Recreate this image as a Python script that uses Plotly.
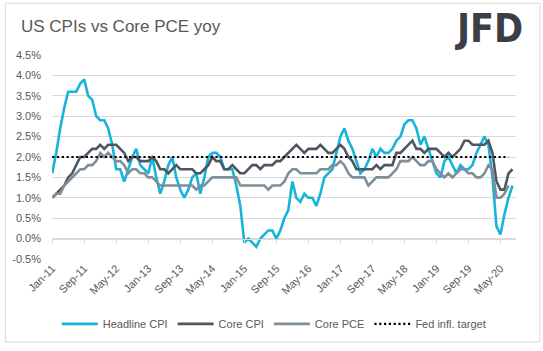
import plotly.graph_objects as go

# ---------------- data ----------------
years = list(range(11, 21))
mons = ["Jan", "Feb", "Mar", "Apr", "May", "Jun", "Jul", "Aug", "Sep", "Oct", "Nov", "Dec"]
months = [f"{m}-{y}" for y in years for m in mons][:116]  # Jan-11 .. Aug-20

headline_cpi = [
    1.6, 2.1, 2.7, 3.2, 3.6, 3.6, 3.6, 3.8, 3.9, 3.5, 3.4, 3.0,
    2.9, 2.9, 2.7, 2.3, 1.7, 1.7, 1.4, 1.7, 2.0, 2.2, 1.8, 1.7,
    1.6, 2.0, 1.5, 1.1, 1.4, 1.8, 2.0, 1.5, 1.2, 1.0, 1.2, 1.5,
    1.6, 1.1, 1.5, 2.0, 2.1, 2.1, 2.0, 1.7, 1.7, 1.7, 1.3, 0.8,
    -0.1, 0.0, -0.1, -0.2, 0.0, 0.1, 0.2, 0.2, 0.0, 0.2, 0.5, 0.7,
    1.4, 1.0, 0.9, 1.1, 1.0, 1.0, 0.8, 1.1, 1.5, 1.6, 1.7, 2.1,
    2.5, 2.7, 2.4, 2.2, 1.9, 1.6, 1.7, 1.9, 2.2, 2.0, 2.2, 2.1,
    2.1, 2.2, 2.4, 2.5, 2.8, 2.9, 2.9, 2.7, 2.3, 2.5, 2.2, 1.9,
    1.6, 1.5, 1.9, 2.0, 1.8, 1.6, 1.8, 1.7, 1.7, 1.8, 2.1, 2.3,
    2.5, 2.3, 1.5, 0.3, 0.1, 0.6, 1.0, 1.3,
]

core_cpi = [
    1.0, 1.1, 1.2, 1.3, 1.5, 1.6, 1.8, 2.0, 2.0, 2.1, 2.2, 2.2,
    2.3, 2.2, 2.3, 2.3, 2.3, 2.2, 2.1, 1.9, 2.0, 2.0, 1.9, 1.9,
    1.9, 2.0, 1.9, 1.7, 1.7, 1.6, 1.7, 1.8, 1.7, 1.7, 1.7, 1.7,
    1.6, 1.6, 1.7, 1.8, 2.0, 1.9, 1.9, 1.7, 1.7, 1.8, 1.7, 1.6,
    1.6, 1.7, 1.8, 1.8, 1.7, 1.8, 1.8, 1.8, 1.9, 1.9, 2.0, 2.1,
    2.2, 2.3, 2.2, 2.1, 2.2, 2.2, 2.2, 2.3, 2.2, 2.1, 2.1, 2.2,
    2.3, 2.2, 2.0, 1.9, 1.7, 1.7, 1.7, 1.7, 1.7, 1.8, 1.7, 1.8,
    1.8, 1.8, 2.1, 2.1, 2.2, 2.3, 2.4, 2.2, 2.2, 2.1, 2.2, 2.2,
    2.2, 2.1, 2.0, 2.1, 2.0, 2.1, 2.2, 2.4, 2.4, 2.3, 2.3, 2.3,
    2.3, 2.4, 2.1, 1.4, 1.2, 1.2, 1.6, 1.7,
]

core_pce = [
    1.0, 1.1, 1.1, 1.3, 1.4, 1.5, 1.6, 1.7, 1.7, 1.8, 1.8, 1.9,
    2.1, 2.0, 2.1, 2.0, 1.9, 1.9, 1.8, 1.6, 1.7, 1.7, 1.6, 1.6,
    1.5, 1.5, 1.4, 1.3, 1.3, 1.3, 1.3, 1.3, 1.3, 1.3, 1.3, 1.3,
    1.2, 1.3, 1.3, 1.4, 1.5, 1.5, 1.5, 1.5, 1.5, 1.5, 1.5, 1.3,
    1.3, 1.3, 1.3, 1.3, 1.3, 1.3, 1.2, 1.3, 1.3, 1.3, 1.4, 1.6,
    1.7, 1.7, 1.6, 1.6, 1.6, 1.6, 1.6, 1.7, 1.7, 1.7, 1.8, 1.8,
    1.9, 1.8, 1.6, 1.5, 1.5, 1.5, 1.5, 1.3, 1.4, 1.5, 1.5, 1.5,
    1.5, 1.6, 1.7, 1.9, 1.9, 1.9, 2.0, 1.9, 1.8, 1.8, 1.9, 1.9,
    1.7, 1.6, 1.5, 1.6, 1.5, 1.6, 1.7, 1.7, 1.6, 1.6, 1.5, 1.5,
    1.6, 1.8, 1.7, 1.0, 1.0, 1.1, 1.3,
]

fed_target_value = 2.0
fed_target_months = 115  # Jan-11 .. Jul-20

y_tickvals = [-0.5, 0.0, 0.5, 1.0, 1.5, 2.0, 2.5, 3.0, 3.5, 4.0, 4.5]
y_ticktext = ["-0.5%", "0.0%", "0.5%", "1.0%", "1.5%", "2.0%", "2.5%", "3.0%", "3.5%", "4.0%", "4.5%"]
x_tick_step = 8

# ---------------- styling ----------------
W, H = 543, 351
ml, mr, mt, mb = 49, 27, 55, 87
pw, ph = W - ml - mr, H - mt - mb

def px_x(x):
    return (x - ml) / pw

def px_y(y):
    return (H - y - mb) / ph

C_HEAD = "#17B4D9"
C_CCPI = "#4E5761"
C_PCE = "#7F8E97"
GRID = "#D9D9D9"
TXT = "#595959"
FONT = "Liberation Sans, Arial, sans-serif"

fig = go.Figure()
fig.add_trace(go.Scatter(x=months, y=headline_cpi, name="Headline CPI", mode="lines",
                         line=dict(color=C_HEAD, width=2.6)))
fig.add_trace(go.Scatter(x=months, y=core_cpi, name="Core CPI", mode="lines",
                         line=dict(color=C_CCPI, width=2.6)))
fig.add_trace(go.Scatter(x=months[:len(core_pce)], y=core_pce, name="Core PCE", mode="lines",
                         line=dict(color=C_PCE, width=2.6)))
fig.add_trace(go.Scatter(x=months[:fed_target_months], y=[fed_target_value] * fed_target_months,
                         name="Fed infl. target", mode="lines", xaxis="x2",
                         line=dict(color="#000000", width=2.2, dash="2.2px,2.6px")))

xr = [-0.05, (516 - ml) / 4.03]

fig.update_layout(
    width=W, height=H,
    margin=dict(l=ml, r=mr, t=mt, b=mb),
    paper_bgcolor="white", plot_bgcolor="white",
    font=dict(family=FONT, size=11, color=TXT),
    showlegend=True,
    legend=dict(orientation="h", x=0.478, xanchor="center", y=px_y(330.5), yanchor="middle",
                font=dict(size=11, color=TXT), itemwidth=36, tracegroupgap=0,
                bgcolor="rgba(0,0,0,0)"),
    xaxis=dict(type="category", categoryorder="array", categoryarray=months,
               range=xr, tickmode="linear", tick0=0, dtick=x_tick_step,
               tickangle=-45, showgrid=False, zeroline=False, showline=False,
               ticks="", tickfont=dict(size=11, color=TXT, family=FONT)),
    xaxis2=dict(type="category", categoryorder="array", categoryarray=months,
                overlaying="x", matches="x", anchor="free", position=0.1,
                range=xr, tickmode="linear", tick0=0, dtick=x_tick_step,
                showticklabels=False, ticks="outside", ticklen=4, tickcolor=GRID,
                showline=True, linecolor=GRID, linewidth=1, showgrid=False, zeroline=False),
    yaxis=dict(range=[-0.5, 4.5], tickvals=y_tickvals, ticktext=y_ticktext,
               showgrid=True, gridcolor=GRID, gridwidth=1, zeroline=False,
               showline=False, ticks="", ticklabelstandoff=10,
               tickfont=dict(size=11, color=TXT, family=FONT)),
)

# frame around the whole chart
fig.add_shape(type="rect", xref="paper", yref="paper",
              x0=px_x(2), x1=px_x(540), y0=px_y(349), y1=px_y(2),
              line=dict(color=GRID, width=1), fillcolor="rgba(0,0,0,0)", layer="below")

fig.add_annotation(text="US CPIs vs Core PCE yoy", xref="paper", yref="paper",
                   x=px_x(16), y=px_y(26), xanchor="left", yanchor="middle", showarrow=False,
                   font=dict(family=FONT, size=17, color=TXT))
fig.add_annotation(text="<b>JFD</b>", xref="paper", yref="paper",
                   x=px_x(489), y=px_y(28), xanchor="center", yanchor="middle", showarrow=False,
                   font=dict(family="DejaVu Sans Condensed, DejaVu Sans, sans-serif", size=39, color="#3A3F47"))

fig.write_html("out.html")
